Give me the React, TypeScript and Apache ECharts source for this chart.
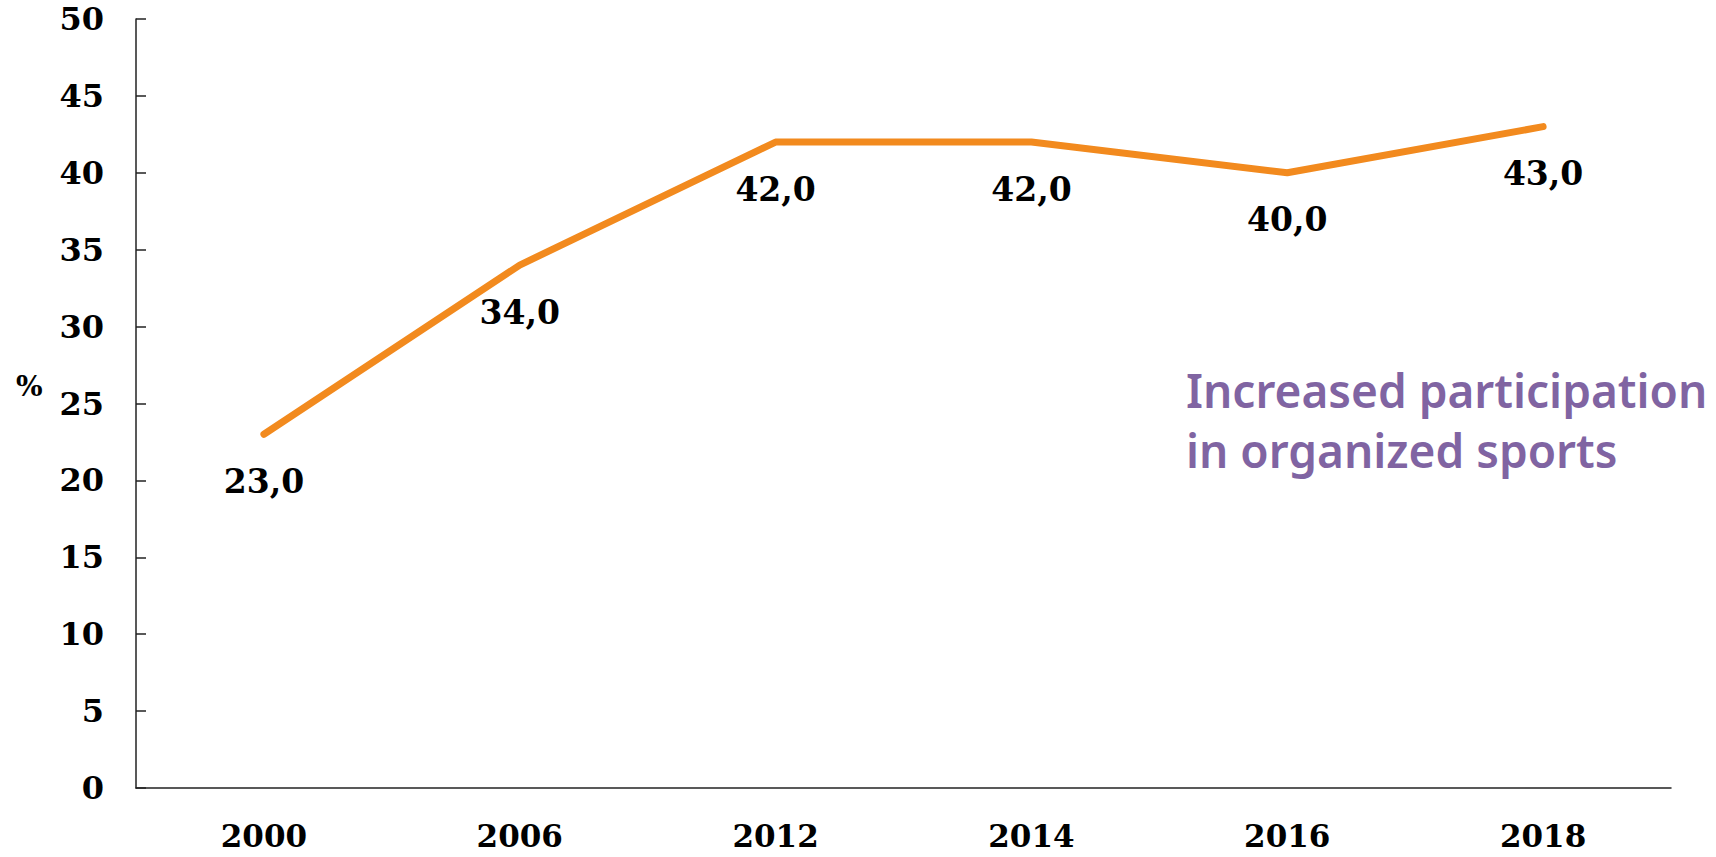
import React, { useEffect, useRef } from "react";
import * as echarts from "echarts";

const categories = ["2000", "2006", "2012", "2014", "2016", "2018"];
const values = [23.0, 34.0, 42.0, 42.0, 40.0, 43.0];
const yTicks = { min: 0, max: 50, interval: 5 };
const unitLabel = "%";
const noteLines = ["Increased participation", "in organized sports"];

const serif = "DejaVu Serif";

export default function App() {
  const ref = useRef<HTMLDivElement>(null);
  useEffect(() => {
    if (!ref.current) return;
    const chart = echarts.init(ref.current, undefined, { renderer: "svg" });
    chart.setOption({
      animation: false,
      backgroundColor: "#ffffff",
      grid: { left: 136, right: 45, top: 19, bottom: 69, containLabel: false },
      xAxis: {
        type: "category",
        data: categories,
        boundaryGap: true,
        axisLine: { lineStyle: { color: "#222", width: 1.5 } },
        axisTick: { inside: true, length: 10, lineStyle: { color: "#222", width: 1.5 } },
        axisLabel: {
          margin: 31,
          color: "#000",
          fontFamily: serif,
          fontWeight: "bold",
          fontSize: 31,
          lineHeight: 34,
        },
      },
      yAxis: {
        type: "value",
        min: yTicks.min,
        max: yTicks.max,
        interval: yTicks.interval,
        splitLine: { show: false },
        axisLine: { show: true, lineStyle: { color: "#222", width: 1.5 } },
        axisTick: { show: true, inside: true, length: 10, lineStyle: { color: "#222", width: 1.5 } },
        axisLabel: {
          margin: 32,
          color: "#000",
          fontFamily: serif,
          fontWeight: "bold",
          fontSize: 32,
        },
      },
      series: [
        {
          type: "line",
          data: values,
          symbol: "circle",
          symbolSize: 1,
          showSymbol: true,
          itemStyle: { color: "rgba(0,0,0,0)" },
          lineStyle: { color: "#F28A1E", width: 7, cap: "round", join: "round" },
          label: {
            show: true,
            position: "bottom",
            distance: 30,
            color: "#000",
            fontFamily: serif,
            fontWeight: "bold",
            fontSize: 33,
            formatter: (p: any) => p.value.toFixed(1).replace(".", ","),
          },
        },
      ],
      graphic: [
        {
          type: "text",
          left: 16,
          top: 372,
          style: {
            text: unitLabel,
            fill: "#000",
            font: `bold 28px "${serif}"`,
          },
        },
        {
          type: "text",
          left: 1186,
          top: 360,
          style: {
            text: noteLines.join("\n"),
            fill: "#8064A2",
            font: `600 46px "Noto Sans"`,
            lineHeight: 60,
          },
        },
      ],
    });
    return () => chart.dispose();
  }, []);
  return (
    <div
      ref={ref}
      style={{ position: "absolute", left: 0, top: 0, width: 1716, height: 857 }}
    />
  );
}
